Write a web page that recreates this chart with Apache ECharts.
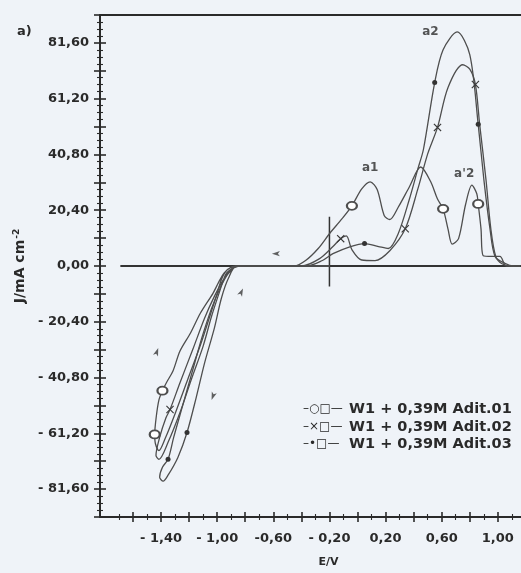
<!DOCTYPE html>
<html>
<head>
<meta charset="utf-8">
<title>Cyclic voltammograms W1 + 0,39M</title>
<script src="https://cdn.jsdelivr.net/npm/echarts@6/dist/echarts.min.js"></script>
<style>
  html, body { margin: 0; padding: 0; background: #eff3f8; }
  #chart { width: 521px; height: 573px; }
</style>
</head>
<body>
<div id="chart"></div>
<script>
// ---- data: potential E (V) and current density J (mA cm-2), listed in scan order ----
const seriesNames = ['W1 + 0,39M Adit.01', 'W1 + 0,39M Adit.02', 'W1 + 0,39M Adit.03'];

const adit01 = [
  [-0.20, 0], [-0.86, 0], [-0.93, -1.5], [-0.97, -5.0], [-1.00, -10.0], [-1.05, -18.0],
  [-1.12, -29.0], [-1.21, -41.5], [-1.30, -54.0], [-1.37, -63.0], [-1.415, -67.5],
  [-1.44, -65.0], [-1.445, -61.6], [-1.435, -55.5], [-1.415, -49.0], [-1.39, -45.6],
  [-1.36, -42.5], [-1.315, -38.4], [-1.265, -31.1], [-1.19, -24.5], [-1.12, -17.3],
  [-1.03, -10.0], [-0.99, -6.0], [-0.95, -2.5], [-0.90, -0.5], [-0.80, 0],
  [-0.45, 0], [-0.37, 2.0], [-0.28, 6.4], [-0.20, 11.8], [-0.11, 17.3], [-0.04, 22.0],
  [0.03, 28.2], [0.09, 30.8], [0.14, 28.0], [0.19, 18.5], [0.23, 17.0], [0.29, 21.5],
  [0.37, 29.0], [0.45, 36.2], [0.52, 31.0], [0.57, 24.5], [0.61, 20.9], [0.645, 13.5],
  [0.675, 8.0], [0.72, 10.0], [0.77, 22.5], [0.815, 29.6], [0.85, 26.4], [0.86, 22.7],
  [0.88, 13.6], [0.895, 3.8], [0.96, 3.5], [1.015, 3.5], [1.06, 0], [1.16, 0]
];
const adit01Marks = [12, 15, 31, 42, 49];

const adit02 = [
  [-0.20, 0], [-0.86, 0], [-0.91, -1.5], [-0.94, -3.1], [-0.98, -8.9], [-1.04, -18.4],
  [-1.10, -29.3], [-1.18, -40.9], [-1.265, -53.6], [-1.35, -64.5], [-1.415, -70.7],
  [-1.436, -69.3], [-1.41, -62.7], [-1.365, -55.5], [-1.336, -52.5], [-1.265, -42.7],
  [-1.17, -30.0], [-1.09, -19.1], [-1.02, -11.1], [-0.95, -4.5], [-0.88, -0.5], [-0.80, 0],
  [-0.40, 0], [-0.27, 2.7], [-0.175, 7.1], [-0.12, 10.0], [-0.08, 11.0], [-0.04, 6.0],
  [0.03, 2.2], [0.125, 2.0], [0.23, 5.6], [0.34, 13.6], [0.43, 28.2], [0.50, 41.0],
  [0.57, 50.7], [0.645, 65.3], [0.75, 73.6], [0.80, 72.0], [0.84, 66.4], [0.87, 52.0],
  [0.915, 31.8], [0.95, 13.6], [0.985, 3.5], [1.03, 0.8], [1.09, 0], [1.16, 0]
];
const adit02Marks = [14, 25, 31, 34, 38];

const adit03 = [
  [-0.20, 0], [-0.86, 0], [-0.92, -4.5], [-0.97, -11.8], [-1.02, -22.7], [-1.09, -35.5],
  [-1.15, -48.2], [-1.215, -60.9], [-1.28, -70.0], [-1.35, -76.5], [-1.385, -78.7],
  [-1.41, -77.3], [-1.39, -73.6], [-1.35, -70.7], [-1.31, -62.7], [-1.25, -51.8],
  [-1.18, -39.1], [-1.11, -26.4], [-1.04, -15.5], [-0.98, -8.2], [-0.92, -2.7], [-0.85, 0],
  [-0.36, 0], [-0.25, 2.0], [-0.175, 4.5], [-0.05, 7.1], [0.05, 8.2], [0.15, 7.1],
  [0.22, 6.4], [0.29, 11.8], [0.37, 24.5], [0.43, 35.5], [0.47, 42.7], [0.55, 67.1],
  [0.61, 79.1], [0.71, 85.6], [0.80, 77.3], [0.86, 51.8], [0.90, 31.8], [0.944, 13.6],
  [0.98, 3.5], [1.05, 1.0], [1.11, 0], [1.16, 0]
];
const adit03Marks = [7, 13, 26, 33, 37];

// zero-current baseline and the starting-potential marker
const baseline = [[-1.69, 0], [1.165, 0]];
const startMarker = [[-0.2, -7.5], [-0.2, 18.0]];

// peak names
const peakNotes = [
  { name: 'a1', E: 0.09, J: 36.0 },
  { name: 'a2', E: 0.52, J: 85.6 },
  { name: "a'2", E: 0.76, J: 33.6 }
];

// scan-direction arrows (rotation in degrees, counter-clockwise from "up")
const sweepArrows = [
  { E: -0.61, J: 4.5, rot: 90 },
  { E: -0.816, J: -8.2, rot: -25 },
  { E: -1.42, J: -30.0, rot: -20 },
  { E: -1.04, J: -49.0, rot: 160 }
];

// axis ticks and labels
const yLabelValues = [-81.6, -61.2, -40.8, -20.4, 0, 20.4, 40.8, 61.2, 81.6];
const xLabelValues = [-1.4, -1.0, -0.6, -0.2, 0.2, 0.6, 1.0];
const xLabelTexts = ['- 1,40', '- 1,00', '-0,60', '- 0,20', '0,20', '0,60', '1,00'];
const xMajorTicks = [-1.6, -1.4, -1.2, -1.0, -0.8, -0.6, -0.4, -0.2, 0, 0.2, 0.4, 0.6, 0.8, 1.0];
const xMinorTicks = [-1.7, -1.5, -1.3, -1.1, -0.9, -0.7, -0.5, -0.3, -0.1, 0.1, 0.3, 0.5, 0.7, 0.9, 1.1];
const legendPrefixes = ['–○□—', '–×□—', '–•□—'];

// ---- styling ----
const FONT = 'DejaVu Sans';
const INK = '#2a2a2a';
const CURVE = '#4e4e4e';
const X_MIN = -1.835, X_MAX = 1.165;
const Y_MIN = -91.8, Y_MAX = 91.8, Y_STEP = 10.2;

const CROSS = 'path://M0,1L1,0L5,4L9,0L10,1L6,5L10,9L9,10L5,6L1,10L0,9L4,5Z';

function yLabel(v) {
  const hit = yLabelValues.find(t => Math.abs(t - v) < 1e-6);
  if (hit === undefined) return '';
  const s = Math.abs(hit).toFixed(2).replace('.', ',');
  return hit < 0 ? '- ' + s : s;
}

function xLabel(v) {
  const i = xLabelValues.findIndex(t => Math.abs(t - v) < 1e-6);
  return i < 0 ? '' : xLabelTexts[i];
}

function tickAxis(values, len, inside) {
  return {
    type: 'value', min: X_MIN, max: X_MAX, position: 'bottom',
    axisLine: { show: false, onZero: false }, splitLine: { show: false }, axisLabel: { show: false },
    axisTick: { show: true, inside: inside, length: len, customValues: values,
      lineStyle: { color: INK, width: len > 3 ? 1.6 : 1.1 } }
  };
}

function curveData(points, marks, markSymbol, markSize, markStyle) {
  return points.map((p, i) => {
    if (marks.indexOf(i) >= 0) {
      return { value: p, symbol: markSymbol, symbolSize: markSize, itemStyle: markStyle };
    }
    return { value: p, symbol: 'none', symbolSize: 0 };
  });
}

function curveSeries(name, data) {
  return {
    name: name, type: 'line', data: data, smooth: 0.3, showSymbol: true, showAllSymbol: true,
    symbol: 'none', lineStyle: { color: CURVE, width: 1.3 }, itemStyle: { color: CURVE },
    emphasis: { disabled: true }, z: 3
  };
}

const chart = echarts.init(document.getElementById('chart'), null, { renderer: 'canvas' });

const option = {
  animation: false,
  backgroundColor: '#eff3f8',
  grid: { left: 100, right: 0, top: 15, bottom: 53 },
  legend: {
    orient: 'vertical', left: 292, top: 396, itemWidth: 0, itemHeight: 0, itemGap: 1,
    selectedMode: false, data: seriesNames,
    formatter: name => '{p|' + legendPrefixes[seriesNames.indexOf(name)] + '}' + name,
    textStyle: {
      color: INK, fontFamily: FONT, fontWeight: 'bold', fontSize: 14.5, lineHeight: 16.5,
      rich: { p: { width: 46, fontSize: 12, fontWeight: 'normal', color: INK, fontFamily: FONT } }
    }
  },
  graphic: [
    { type: 'text', left: 17, top: 25,
      style: { text: 'a)', fill: INK, font: 'bold 13px "DejaVu Sans"' } }
  ],
  xAxis: [
    {
      type: 'value', min: X_MIN, max: X_MAX, position: 'bottom',
      axisLine: { show: true, onZero: false, lineStyle: { color: INK, width: 2 } },
      axisTick: { show: true, length: 5, customValues: xMajorTicks, lineStyle: { color: INK, width: 1.6 } },
      axisLabel: { customValues: xLabelValues, formatter: xLabel, margin: 15, color: INK,
        fontFamily: FONT, fontWeight: 'bold', fontSize: 13 },
      splitLine: { show: false },
      name: 'E/V', nameLocation: 'middle', nameGap: 40,
      nameTextStyle: { color: INK, fontFamily: FONT, fontWeight: 'bold', fontSize: 11, padding: [0, 0, 0, 36] }
    },
    tickAxis(xMajorTicks, 5, true),
    tickAxis(xMinorTicks, 3, false),
    tickAxis(xMinorTicks, 3, true),
    {
      type: 'value', min: X_MIN, max: X_MAX, position: 'top',
      axisLine: { show: true, onZero: false, lineStyle: { color: INK, width: 2 } },
      axisTick: { show: false }, axisLabel: { show: false }, splitLine: { show: false }
    }
  ],
  yAxis: [
    {
      type: 'value', min: Y_MIN, max: Y_MAX, interval: Y_STEP, position: 'left',
      axisLine: { show: true, onZero: false, lineStyle: { color: INK, width: 2 } },
      axisTick: { show: true, length: 6, lineStyle: { color: INK, width: 1.6 } },
      minorTick: { show: true, splitNumber: 4, length: 3, lineStyle: { color: INK, width: 1.1 } },
      splitLine: { show: false }, minorSplitLine: { show: false },
      axisLabel: { formatter: yLabel, margin: 11, color: INK, fontFamily: FONT, fontWeight: 'bold', fontSize: 13 },
      name: 'J/mA cm{sup|-2}', nameLocation: 'middle', nameGap: 70, nameRotate: 90,
      nameTextStyle: {
        color: INK, fontFamily: FONT, fontWeight: 'bold', fontSize: 14,
        rich: { sup: { fontSize: 9, fontWeight: 'bold', fontFamily: FONT, color: INK, verticalAlign: 'top', padding: [0, 0, 6, 1] } }
      }
    },
    {
      type: 'value', min: Y_MIN, max: Y_MAX, interval: Y_STEP, position: 'left',
      axisLine: { show: false, onZero: false },
      axisTick: { show: true, inside: true, length: 6, lineStyle: { color: INK, width: 1.6 } },
      minorTick: { show: true, splitNumber: 4, length: 3, lineStyle: { color: INK, width: 1.1 } },
      splitLine: { show: false }, minorSplitLine: { show: false },
      axisLabel: { show: false }
    }
  ],
  series: [
    {
      name: 'baseline', type: 'line', data: baseline, symbol: 'none', silent: true,
      lineStyle: { color: '#333', width: 2 }, z: 2
    },
    {
      name: 'start', type: 'line', data: startMarker, symbol: 'none', silent: true,
      lineStyle: { color: '#333', width: 1.5 }, z: 2
    },
    curveSeries(seriesNames[0], curveData(adit01, adit01Marks, 'emptyCircle', [10, 8],
      { color: CURVE, borderColor: CURVE, borderWidth: 1.3 })),
    curveSeries(seriesNames[1], curveData(adit02, adit02Marks, CROSS, 8,
      { color: '#3a3a3a' })),
    curveSeries(seriesNames[2], curveData(adit03, adit03Marks, 'circle', 5,
      { color: '#333' })),
    {
      name: 'sweep', type: 'scatter', silent: true, symbol: 'arrow', symbolSize: [4, 8],
      data: sweepArrows.map(a => ({ value: [a.E, a.J], symbolRotate: a.rot })),
      itemStyle: { color: '#3a3a3a' }, z: 4
    },
    {
      name: 'peaks', type: 'scatter', silent: true, symbolSize: 1,
      data: peakNotes.map(n => ({ name: n.name, value: [n.E, n.J] })),
      itemStyle: { color: 'transparent' },
      label: { show: true, position: 'inside', formatter: '{b}', color: INK,
        fontFamily: FONT, fontWeight: 'bold', fontSize: 12 },
      z: 5
    }
  ]
};

chart.setOption(option);
</script>
</body>
</html>
